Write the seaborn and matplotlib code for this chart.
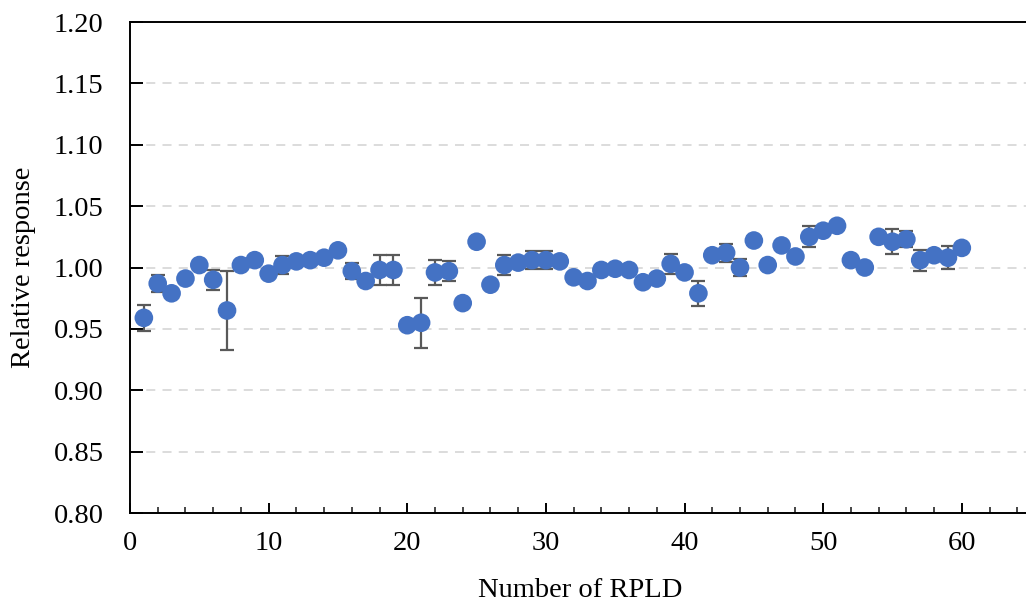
import numpy as np
import pandas as pd
import matplotlib
matplotlib.use("Agg")
import matplotlib.pyplot as plt
import seaborn as sns
from matplotlib.ticker import MultipleLocator, FormatStrFormatter

rpld = list(range(1, 61))
response = [
    0.959, 0.987, 0.979, 0.991, 1.002, 0.990, 0.965, 1.002, 1.006, 0.995,
    1.002, 1.005, 1.006, 1.008, 1.014, 0.997, 0.989, 0.998, 0.998, 0.953,
    0.955, 0.996, 0.997, 0.971, 1.021, 0.986, 1.002, 1.004, 1.006, 1.006,
    1.005, 0.992, 0.989, 0.998, 0.999, 0.998, 0.988, 0.991, 1.003, 0.996,
    0.979, 1.010, 1.012, 1.000, 1.022, 1.002, 1.018, 1.009, 1.025, 1.030,
    1.034, 1.006, 1.000, 1.025, 1.021, 1.023, 1.006, 1.010, 1.008, 1.016,
]
error = [
    0.0105, 0.0073, 0.003, 0.003, 0.003, 0.008, 0.032, 0.003, 0.003, 0.003,
    0.007, 0.003, 0.003, 0.003, 0.003, 0.0065, 0.003, 0.0125, 0.0125, 0.003,
    0.0205, 0.010, 0.008, 0.003, 0.003, 0.003, 0.008, 0.003, 0.0075, 0.0075,
    0.004, 0.003, 0.003, 0.003, 0.003, 0.003, 0.003, 0.003, 0.008, 0.003,
    0.010, 0.003, 0.0075, 0.007, 0.003, 0.003, 0.003, 0.003, 0.0085, 0.003,
    0.003, 0.003, 0.003, 0.003, 0.010, 0.0065, 0.0085, 0.003, 0.0095, 0.003,
]

df = pd.DataFrame({"RPLD": rpld, "Response": response, "Err": error})

sns.set_theme(style="white")
plt.rcParams["font.family"] = ["Liberation Serif", "DejaVu Serif"]

fig = plt.figure(figsize=(10.26, 6.08), dpi=100)
ax = fig.add_axes([0.1267, 0.1562, 0.8783, 0.8076])

ax.errorbar(df["RPLD"], df["Response"], yerr=df["Err"], fmt="none",
            ecolor="#595959", elinewidth=1.6, capsize=5, capthick=1.6, zorder=2)
sns.scatterplot(data=df, x="RPLD", y="Response", ax=ax, color="#4472C4",
                s=180, edgecolor="none", zorder=3, legend=False)

ax.set_xlim(0, 65)
ax.set_ylim(0.80, 1.20)
ax.xaxis.set_major_locator(MultipleLocator(10))
ax.xaxis.set_minor_locator(MultipleLocator(2))
ax.yaxis.set_major_locator(MultipleLocator(0.05))
ax.yaxis.set_major_formatter(FormatStrFormatter("%.2f"))

ax.grid(axis="y", color="#D9D9D9", linestyle=(0, (5, 4)), linewidth=1.3, zorder=0)
ax.set_axisbelow(True)

for side in ["left", "bottom", "top"]:
    ax.spines[side].set_visible(True)
    ax.spines[side].set_color("black")
    ax.spines[side].set_linewidth(1.4)
ax.spines["right"].set_visible(False)

ax.tick_params(axis="x", which="major", direction="in", length=7, width=1.4,
               labelsize=20.5, pad=13, bottom=True, colors="black")
ax.tick_params(axis="x", which="minor", direction="in", length=4, width=1.2,
               bottom=True)
ax.tick_params(axis="y", which="major", direction="in", length=9, width=1.4,
               labelsize=20.5, pad=19, left=True, colors="black")

ax.set_xlabel("Number of RPLD", fontsize=20.5, labelpad=16, color="black")
ax.set_ylabel("Relative response", fontsize=20.5, labelpad=13, color="black")

fig.savefig("out.png", dpi=100)
